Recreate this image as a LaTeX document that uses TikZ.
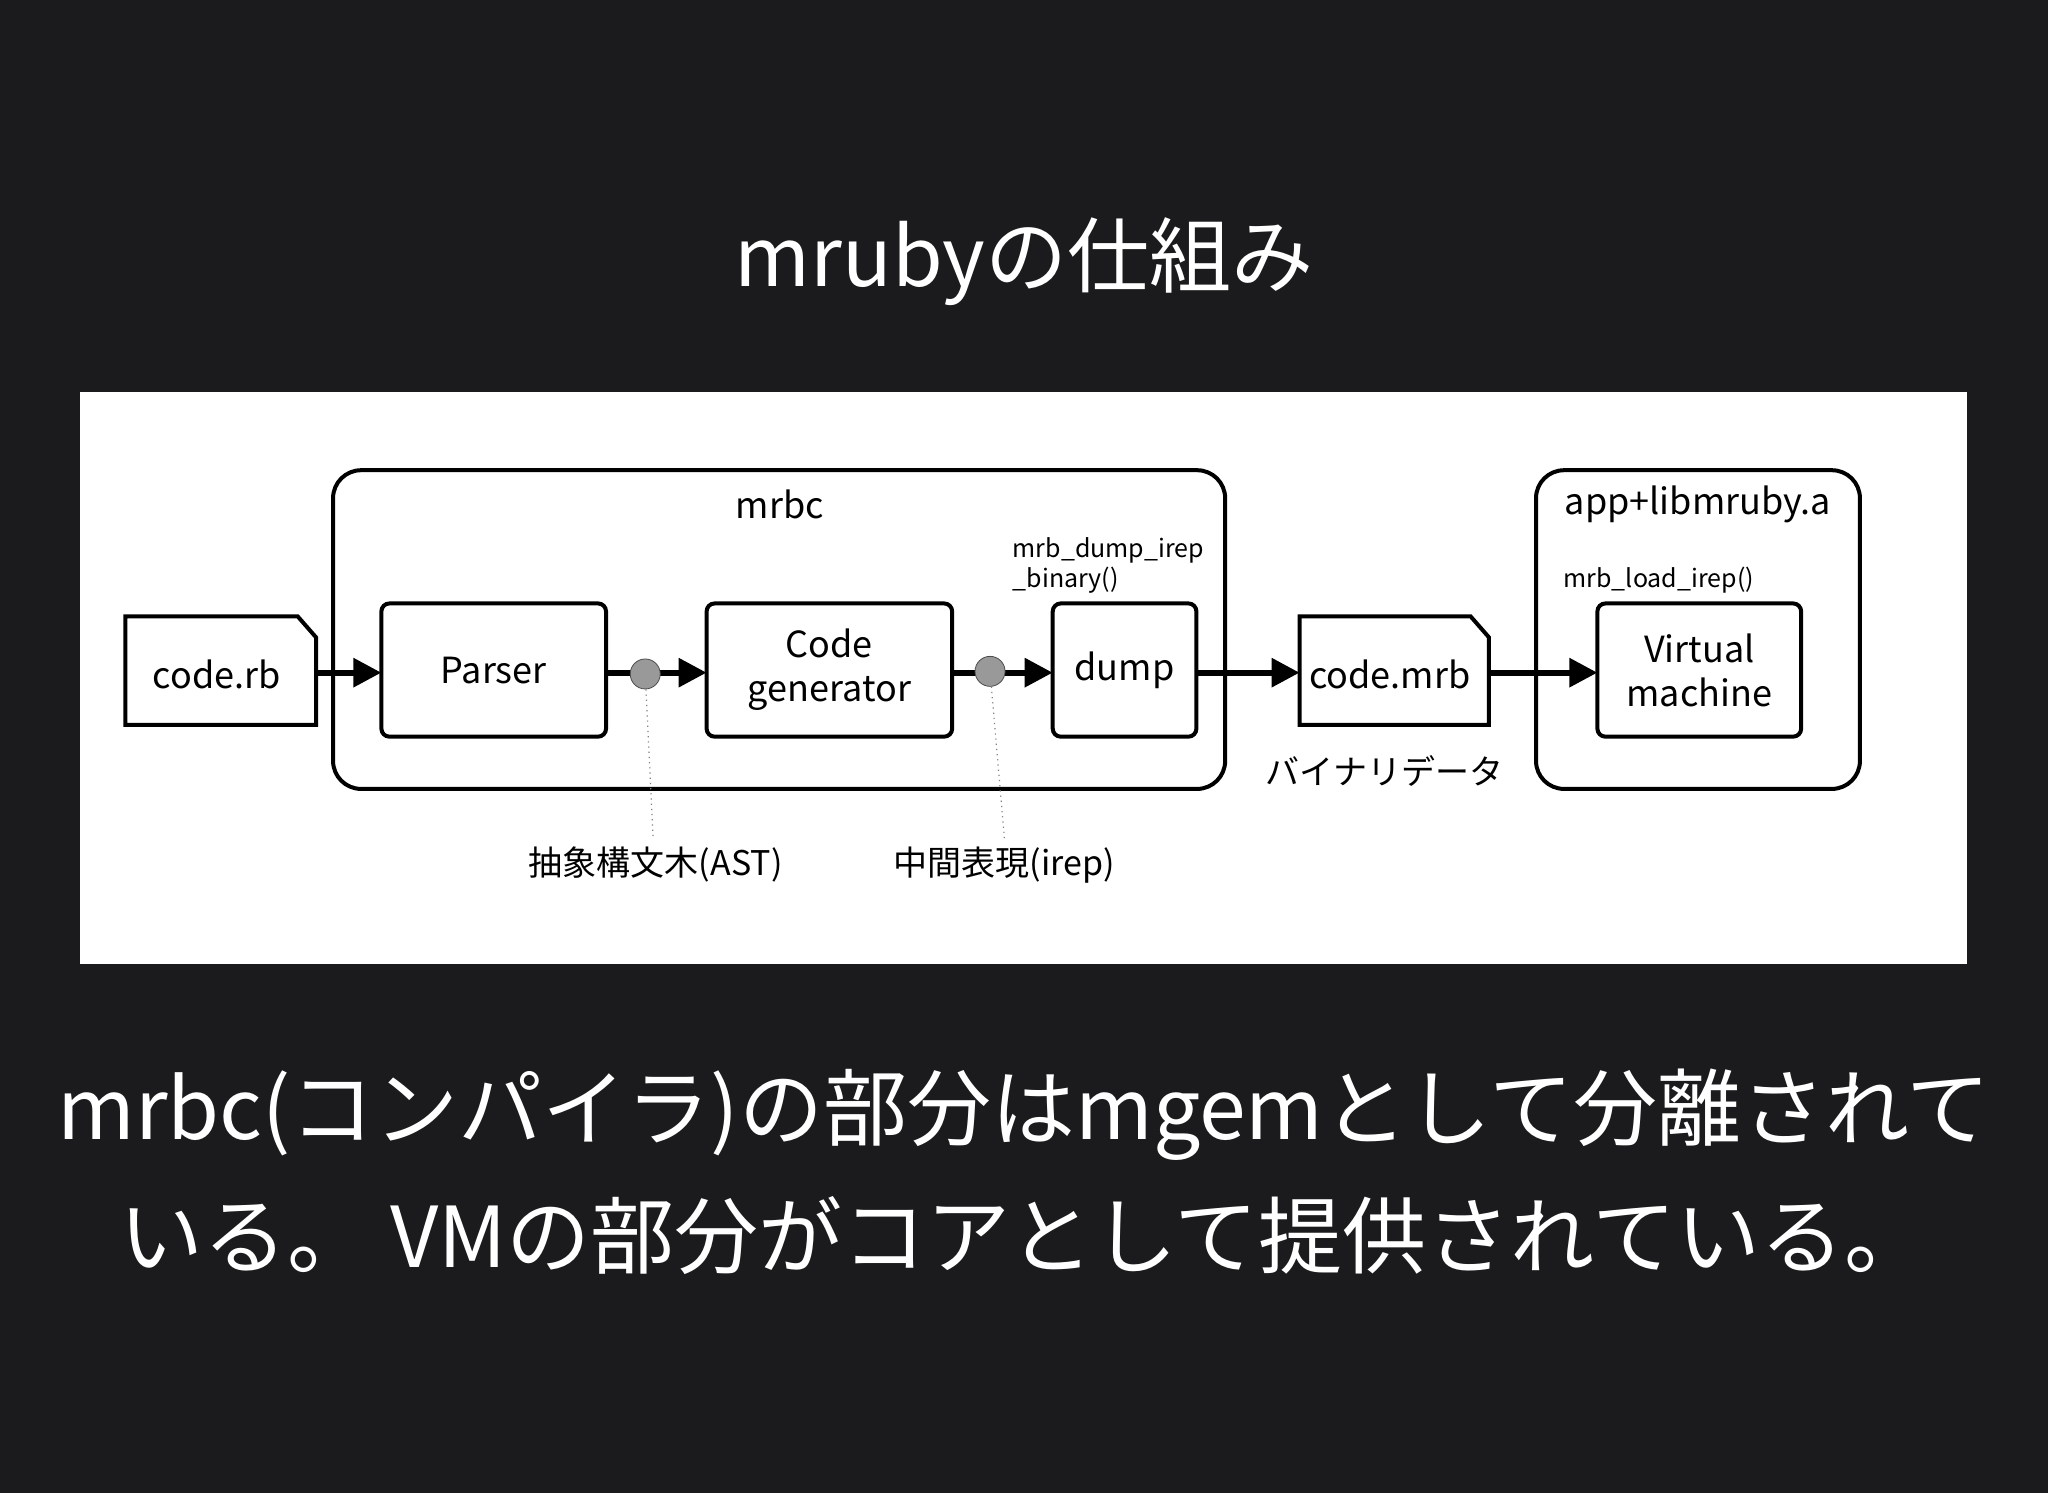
\documentclass[tikz,border=0pt]{standalone}
\usepackage{fontspec}
\setmainfont{Noto Sans CJK JP}
\newfontfamily\dg{Noto Sans CJK JP}
\usetikzlibrary{arrows.meta}
\definecolor{bg}{HTML}{1B1A1C}
\begin{document}
\begin{tikzpicture}[x=0.653pt,y=-0.653pt,
  blk/.style={draw,line width=2pt,rounded corners=4pt,fill=white},
  grp/.style={draw,line width=2pt,rounded corners=14pt},
  lab/.style={font=\dg\fontsize{18}{22}\selectfont,align=center},
  sm/.style={font=\dg\fontsize{12.5}{15}\selectfont,align=left},
  arr/.style={line width=3pt,-{Triangle[length=14pt,width=14pt]}},
  dot/.style={circle,fill=gray!80,draw=gray!60!black,minimum size=15pt,inner sep=0pt},
  lead/.style={gray,dotted,line width=0.6pt}]
\fill[bg] (0,0) rectangle (1568,1143);
\useasboundingbox (0,0) rectangle (1568,1143);
\fill[white] (61,300) rectangle (1506,738);
\node[text=white,font=\fontsize{41}{48}\selectfont] (title) at (784,200) {mrubyの仕組み};
% groups
\draw[grp] (255,360) rectangle (938,604);
\node[lab] (mrbc) at (597,386) {mrbc};
\draw[grp] (1176,360) rectangle (1424,604);
\node[lab] (app) at (1300,386) {app+libmruby.a};
% files
\draw[line width=2pt,fill=white] (96,472) -- (228,472) -- (242,488) -- (242,555) -- (96,555) -- cycle;
\node[lab] (rb) at (166,516) {code.rb};
\draw[line width=2pt,fill=white] (995,472) -- (1126,472) -- (1140,488) -- (1140,555) -- (995,555) -- cycle;
\node[lab] (mrb) at (1064,516) {code.mrb};
\coordinate (rbE) at (242,515);
\coordinate (mrbW) at (995,515);
\coordinate (mrbE) at (1140,515);
% blocks
\draw[blk] (292,462) rectangle (464,564);
\node[lab] (parser) at (378,513) {Parser};
\draw[blk] (541,462) rectangle (729,564);
\node[lab] (cg) at (635,513) {Code\\generator};
\draw[blk] (806,462) rectangle (916,564);
\node[lab] (dump) at (861,513) {dump};
\draw[blk] (1223,462) rectangle (1379,564);
\node[lab] (vm) at (1301,513) {Virtual\\machine};
\coordinate (pE) at (464,515); \coordinate (cgW) at (541,515);
\coordinate (cgE) at (729,515); \coordinate (dW) at (806,515);
\coordinate (dE) at (916,515); \coordinate (vmW) at (1223,515);
\coordinate (pW) at (292,515);
% arrows
\draw[arr] (rbE) -- (pW);
\draw[arr] (pE) -- (cgW);
\draw[arr] (cgE) -- (dW);
\draw[arr] (dE) -- (mrbW);
\draw[arr] (mrbE) -- (vmW);
\node[dot] (d1) at (494,516) {};
\node[dot] (d2) at (758,514) {};
\node[font=\dg\fontsize{17}{20}\selectfont] (ast) at (502,662) {抽象構文木(AST)};
\node[font=\dg\fontsize{17}{20}\selectfont] (irep) at (769,662) {中間表現(irep)};
\draw[lead] (d1) -- (500,642);
\draw[lead] (d2) -- (769,642);
\node[sm,anchor=west] (dl) at (770,433) {mrb\_dump\_irep\\\_binary()};
\node[sm] (ll) at (1270,444) {mrb\_load\_irep()};
\node[font=\dg\fontsize{17}{20}\selectfont] (bin) at (1060,590) {バイナリデータ};
% bottom text
\node[text=white,font=\fontsize{42}{64}\selectfont,align=center] (body) at (784,897) {mrbc(コンパイラ)の部分はmgemとして分離されて\\いる。 VMの部分がコアとして提供されている。};
\end{tikzpicture}
\end{document}
